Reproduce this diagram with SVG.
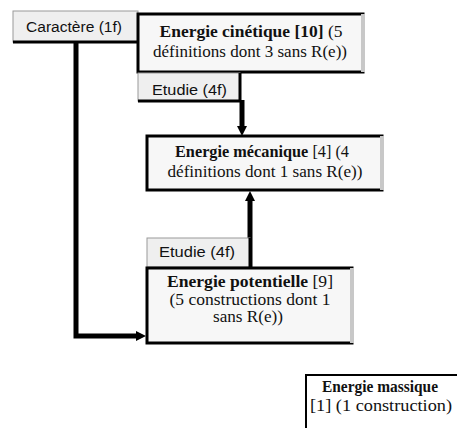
<svg xmlns="http://www.w3.org/2000/svg" width="460" height="428" viewBox="0 0 460 428">
<style>
.box{fill:#f7f7f7;stroke:#000;stroke-width:3}
.lbl{fill:#efefef;stroke:#9a9a9a;stroke-width:1}
.sh{stroke:#000;stroke-width:3;fill:none}
.edge{stroke:#c8c8c8;stroke-width:4}
.serif{font-family:"Liberation Serif","Times New Roman",serif;font-size:16px;fill:#111;text-anchor:middle}
.sans{font-family:"Liberation Sans",Arial,sans-serif;font-size:14px;fill:#111;text-anchor:middle}
.b{font-weight:bold}
.conn{stroke:#000;stroke-width:5;fill:none}
</style>
<defs>
<marker id="ah" viewBox="0 0 10 10" refX="4" refY="5" markerWidth="10" markerHeight="11" markerUnits="userSpaceOnUse" orient="auto">
<path d="M0,0 L10,5 L0,10 Z" fill="#000"/>
</marker>
</defs>
<rect width="460" height="428" fill="#fff"/>

<g id="connectors">
<path class="conn" d="M76,42 V336 H140" marker-end="url(#ah)"/>
<path class="conn" d="M242,100 V130" marker-end="url(#ah)"/>
<path class="conn" d="M250,267 V197" marker-end="url(#ah)"/>
</g>

<g id="caractere">
<rect class="lbl" x="13" y="11" width="125" height="31"/>
<path class="sh" d="M13,42 H138"/>
<text class="sans" x="74" y="32" textLength="96" lengthAdjust="spacingAndGlyphs">Caractère (1f)</text>
</g>

<g id="cinetique">
<rect class="box" x="138" y="14" width="225" height="58"/>
<path class="edge" d="M363,14 V72"/>
<text class="serif" x="251" y="37" textLength="183" lengthAdjust="spacingAndGlyphs"><tspan class="b">Energie cinétique [10]</tspan> (5</text>
<text class="serif" x="250" y="57" textLength="194" lengthAdjust="spacingAndGlyphs">définitions dont 3 sans R(e))</text>
</g>

<g id="etudie1">
<rect class="lbl" x="138" y="73" width="102" height="28"/>
<path class="sh" d="M138,101 H240 V73"/>
<text class="sans" x="189.5" y="95" textLength="75" lengthAdjust="spacingAndGlyphs">Etudie (4f)</text>
</g>

<g id="mecanique">
<rect class="box" x="147" y="136" width="235" height="54"/>
<path class="edge" d="M382,136 V190"/>
<text class="serif" x="262" y="157" textLength="174" lengthAdjust="spacingAndGlyphs"><tspan class="b">Energie mécanique</tspan> [4] (4</text>
<text class="serif" x="265" y="177" textLength="195" lengthAdjust="spacingAndGlyphs">définitions dont 1 sans R(e))</text>
</g>

<g id="etudie2">
<rect class="lbl" x="147" y="238" width="103" height="29"/>
<path class="sh" d="M250,238 V267"/>
<text class="sans" x="197" y="257" textLength="76" lengthAdjust="spacingAndGlyphs">Etudie (4f)</text>
</g>

<g id="potentielle">
<rect class="box" x="147" y="268" width="205" height="75"/>
<path class="edge" d="M352,268 V343"/>
<text class="serif" x="250" y="287" textLength="166" lengthAdjust="spacingAndGlyphs"><tspan class="b">Energie potentielle</tspan> [9]</text>
<text class="serif" x="250" y="305" textLength="161" lengthAdjust="spacingAndGlyphs">(5 constructions dont 1</text>
<text class="serif" x="248" y="322" textLength="70" lengthAdjust="spacingAndGlyphs">sans R(e))</text>
</g>

<g id="massique">
<path d="M306,432 V375 H457" fill="none" stroke="#000" stroke-width="2"/>
<text class="serif" x="380" y="392" textLength="116" lengthAdjust="spacingAndGlyphs"><tspan class="b">Energie massique</tspan></text>
<text class="serif" x="381" y="411" textLength="142" lengthAdjust="spacingAndGlyphs">[1] (1 construction)</text>
</g>
</svg>
